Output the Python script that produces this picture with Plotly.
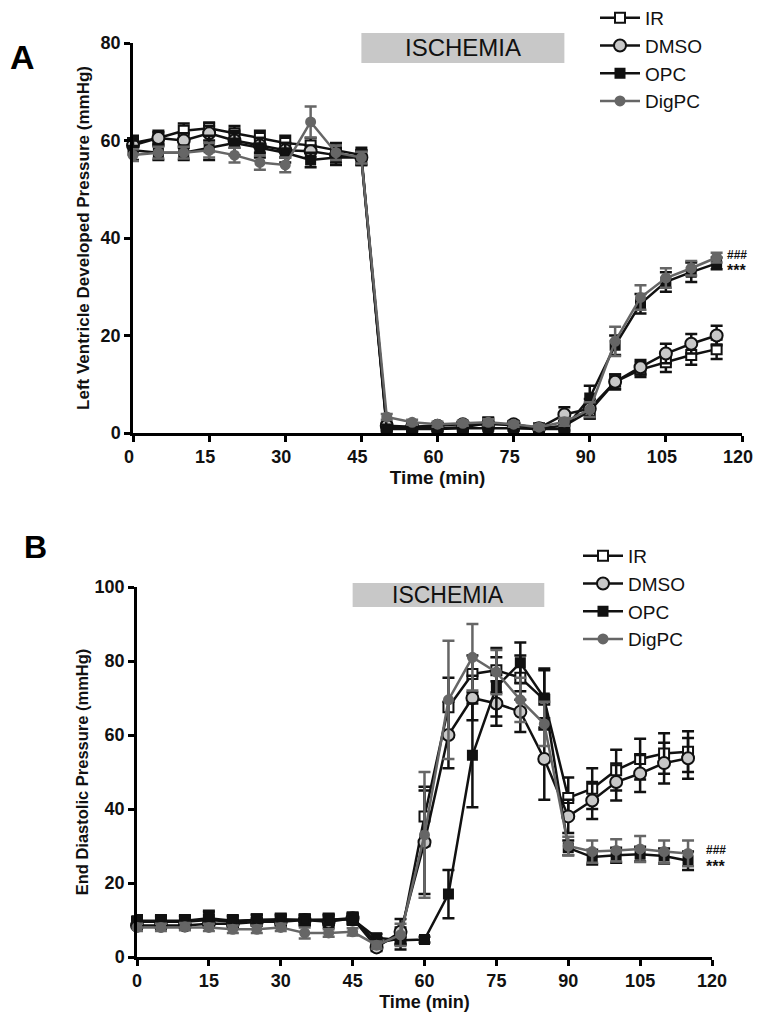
import plotly.graph_objects as go

# time points (min)
time_min = [0, 5, 10, 15, 20, 25, 30, 35, 40, 45, 50, 55, 60, 65, 70, 75, 80, 85, 90, 95, 100, 105, 110, 115]

# Panel A: left ventricle developed pressure (mmHg)
ir_a = [59.5, 60.5, 62, 62.5, 61.5, 60.5, 59.5, 59, 58, 57, 1.2, 1.0, 1.0, 1.2, 2.0, 1.5, 1.0, 1.5, 4.5, 10.5, 13, 14.5, 16, 17.2]
dmso_a = [59, 60.5, 60, 61.5, 60, 59, 58, 57.8, 57, 56.5, 1.5, 1.3, 1.5, 1.8, 1.8, 1.8, 1.0, 3.8, 5, 10.5, 13.5, 16.3, 18.3, 20]
opc_a = [58, 57.5, 57.5, 58.5, 59.5, 58.5, 57.5, 56, 56.5, 56.5, 0.8, 0.8, 0.8, 1.0, 1.0, 1.0, 0.8, 0.8, 7.2, 18, 26.5, 31, 33, 34.8]
digpc_a = [57, 57.5, 57.5, 58, 57, 55.5, 55, 63.8, 57.5, 56.5, 3.3, 2.2, 1.8, 2.0, 2.2, 1.8, 1.2, 2.3, 4.8, 18.8, 27.8, 31.8, 33.8, 36]

ir_a_err = [1.5, 1.5, 1.5, 1.2, 1.5, 1.5, 1.5, 1.5, 1.5, 1.5, 0.5, 0.5, 0.5, 0.6, 1.2, 0.8, 0.5, 1.0, 1.5, 1.5, 1.5, 2.0, 2.0, 2.0]
dmso_a_err = [1.2, 1.2, 1.5, 1.5, 1.5, 1.5, 1.5, 1.2, 1.5, 1.5, 0.5, 0.5, 0.5, 0.6, 0.8, 0.6, 0.5, 1.5, 2.0, 1.5, 1.5, 2.0, 2.0, 2.0]
opc_a_err = [2.0, 1.5, 1.5, 2.5, 2.5, 2.0, 2.0, 1.5, 1.5, 1.5, 0.4, 0.4, 0.4, 0.5, 0.5, 0.5, 0.4, 0.8, 2.5, 2.0, 2.0, 2.0, 2.0, 1.2]
digpc_a_err = [1.2, 1.2, 1.2, 1.5, 1.5, 1.5, 1.5, 3.2, 1.5, 1.2, 0.6, 0.5, 0.5, 0.5, 0.6, 0.5, 0.5, 0.8, 1.5, 3.0, 2.5, 2.0, 1.5, 1.0]

# Panel B: end diastolic pressure (mmHg)
ir_b = [9.5, 9.5, 9.5, 10, 9.5, 10, 10, 10, 10, 10.5, 3.8, 5, 38, 67.5, 76.5, 77.5, 75.5, 69.5, 43, 45.5, 50.5, 53.5, 55, 55.5]
dmso_b = [8.5, 8.5, 8.5, 9, 9, 9.5, 9.5, 10, 9.5, 10.5, 2.6, 6.8, 31, 60, 70, 68.5, 66.3, 53.5, 38, 42.3, 47.3, 49.6, 52.4, 53.7]
opc_b = [9.8, 9.8, 9.8, 10.5, 9.8, 10, 10.2, 10, 10.2, 10.2, 5.2, 4.5, 4.7, 17, 54.5, 73, 79.5, 70, 29.5, 27, 27.5, 27.8, 27.3, 26]
digpc_b = [8, 8, 8.2, 8, 7.5, 7.5, 8, 6.5, 6.5, 6.8, 3.2, 6, 33, 69.5, 81, 77, 69.5, 63, 30, 28.5, 28.8, 29.2, 28.5, 28]

ir_b_err = [1.5, 1.5, 1.5, 2.0, 1.5, 1.5, 1.5, 1.5, 1.5, 1.5, 1.5, 3.0, 8.0, 8.0, 5.0, 6.0, 6.0, 8.0, 5.5, 5.5, 5.5, 5.5, 5.5, 5.5]
dmso_b_err = [1.0, 1.0, 1.0, 1.0, 1.0, 1.0, 1.5, 1.0, 1.5, 1.0, 1.0, 3.5, 14, 9, 6, 6, 5.5, 11, 4.5, 5.0, 5.0, 5.0, 5.5, 5.5]
opc_b_err = [1.5, 1.5, 1.5, 2.0, 1.5, 1.5, 1.5, 1.5, 1.5, 1.5, 1.0, 1.0, 0.8, 6.5, 14, 8, 5.5, 8, 2.0, 2.0, 2.0, 2.0, 2.0, 2.5]
digpc_b_err = [1.0, 1.0, 1.0, 1.0, 1.0, 1.0, 1.0, 1.5, 1.0, 1.0, 1.0, 3.0, 17, 16, 9, 6, 6, 6, 2.5, 3.0, 3.0, 3.5, 3.0, 3.5]

x_ticks = [0, 15, 30, 45, 60, 75, 90, 105, 120]
ischemia = [45, 85]

FONT = "Liberation Sans, Arial, sans-serif"
BLACK = "#111111"
GREY = "#666666"

styles = {
    "IR": dict(color=BLACK, symbol="square", fill="white", size=10),
    "DMSO": dict(color=BLACK, symbol="circle", fill="#c8c8c8", size=12),
    "OPC": dict(color=BLACK, symbol="square", fill=BLACK, size=9),
    "DigPC": dict(color=GREY, symbol="circle", fill=GREY, size=9),
}

panels = [
    ("x", "y", "legend", {"IR": (ir_a, ir_a_err), "DMSO": (dmso_a, dmso_a_err),
                          "OPC": (opc_a, opc_a_err), "DigPC": (digpc_a, digpc_a_err)}),
    ("x2", "y2", "legend2", {"IR": (ir_b, ir_b_err), "DMSO": (dmso_b, dmso_b_err),
                             "OPC": (opc_b, opc_b_err), "DigPC": (digpc_b, digpc_b_err)}),
]

fig = go.Figure()
for xa, ya, leg, series in panels:
    for name, (vals, errs) in series.items():
        s = styles[name]
        fig.add_trace(go.Scatter(
            x=time_min, y=vals, name=name, mode="lines+markers",
            xaxis=xa, yaxis=ya, legend=leg, cliponaxis=False,
            line=dict(color=s["color"], width=2.5),
            marker=dict(symbol=s["symbol"], size=s["size"], color=s["fill"],
                        line=dict(color=s["color"], width=2)),
            error_y=dict(type="data", array=errs, color=s["color"], thickness=2.5, width=6),
        ))

# the page body adds an 8px margin, so the figure is drawn 8px smaller on each side
OFF = 8
W, H = 761 - 2 * OFF, 1020 - 2 * OFF


def px_x(p):
    # screen x (px) -> paper
    return (p - OFF) / W


def px_y(p):
    # screen y (px) -> paper
    return 1 - (p - OFF) / H


axis_common = dict(showline=True, linecolor="black", linewidth=2.5, ticks="outside",
                   ticklen=6, tickwidth=2.5, tickcolor="black", showgrid=False, zeroline=False,
                   automargin=False, ticklabeloverflow="allow",
                   tickfont=dict(family=FONT, size=18, color=BLACK, weight="bold"))

fig.update_layout(
    width=W, height=H, margin=dict(l=0, r=0, t=0, b=0, autoexpand=False),
    plot_bgcolor="white", paper_bgcolor="white",
    font=dict(family=FONT, color=BLACK),
    xaxis=dict(axis_common, domain=[px_x(133), px_x(742)], range=[0, 120], tickvals=x_ticks,
               ticklabelshift=-4, anchor="y",
               title=dict(text="Time (min)", standoff=4, font=dict(family=FONT, size=19, weight="bold"))),
    yaxis=dict(axis_common, domain=[px_y(433), px_y(43)], range=[0, 80], tickvals=[0, 20, 40, 60, 80],
               anchor="x", title=dict(text="Left Ventricle Developed Pressure (mmHg)", standoff=7,
                                      font=dict(family=FONT, size=17, weight="bold"))),
    xaxis2=dict(axis_common, domain=[px_x(137), px_x(712)], range=[0, 120], tickvals=x_ticks,
                anchor="y2", title=dict(text="Time (min)", standoff=10,
                                        font=dict(family=FONT, size=18, weight="bold"))),
    yaxis2=dict(axis_common, domain=[px_y(957), px_y(587)], range=[0, 100],
                tickvals=[0, 20, 40, 60, 80, 100], anchor="x2",
                title=dict(text="End Diastolic Pressure (mmHg)", standoff=2,
                           font=dict(family=FONT, size=16.5, weight="bold"))),
    legend=dict(x=px_x(595), y=px_y(-1), xanchor="left", yanchor="top", itemwidth=40,
                font=dict(family=FONT, size=19, color=BLACK), bgcolor="rgba(0,0,0,0)"),
    legend2=dict(x=px_x(578), y=px_y(537), xanchor="left", yanchor="top", itemwidth=40,
                 font=dict(family=FONT, size=19, color=BLACK), bgcolor="rgba(0,0,0,0)"),
    showlegend=True,
)

# ischemia bars
fig.add_shape(type="rect", xref="x", yref="paper", x0=ischemia[0], x1=ischemia[1],
              y0=px_y(63), y1=px_y(33), fillcolor="#c8c8c8", line=dict(width=0), layer="below")
fig.add_shape(type="rect", xref="x2", yref="paper", x0=ischemia[0], x1=ischemia[1],
              y0=px_y(607), y1=px_y(583), fillcolor="#c8c8c8", line=dict(width=0), layer="below")
fig.add_annotation(x=sum(ischemia) / 2, y=px_y(48), xref="x", yref="paper", text="ISCHEMIA",
                   showarrow=False, yanchor="middle", font=dict(family=FONT, size=24, color=BLACK))
fig.add_annotation(x=sum(ischemia) / 2, y=px_y(595), xref="x2", yref="paper", text="ISCHEMIA",
                   showarrow=False, yanchor="middle", font=dict(family=FONT, size=23, color=BLACK))

# significance marks
fig.add_annotation(x=time_min[-1], y=digpc_a[-1], xref="x", yref="y", text="###", showarrow=False,
                   xanchor="left", xshift=8, yshift=2, font=dict(family=FONT, size=12, weight="bold"))
fig.add_annotation(x=time_min[-1], y=opc_a[-1], xref="x", yref="y", text="***", showarrow=False,
                   xanchor="left", xshift=8, yshift=-7, font=dict(family=FONT, size=16, weight="bold"))
fig.add_annotation(x=time_min[-1], y=digpc_b[-1], xref="x2", yref="y2", text="###", showarrow=False,
                   xanchor="left", xshift=16, yshift=3, font=dict(family=FONT, size=12, weight="bold"))
fig.add_annotation(x=time_min[-1], y=opc_b[-1], xref="x2", yref="y2", text="***", showarrow=False,
                   xanchor="left", xshift=16, yshift=-6, font=dict(family=FONT, size=16, weight="bold"))

# panel letters
fig.add_annotation(x=px_x(8), y=px_y(57), xref="paper", yref="paper", text="<b>A</b>", showarrow=False,
                   xanchor="left", yanchor="middle", font=dict(family=FONT, size=34, color="black"))
fig.add_annotation(x=px_x(22), y=px_y(547), xref="paper", yref="paper", text="<b>B</b>", showarrow=False,
                   xanchor="left", yanchor="middle", font=dict(family=FONT, size=32, color="black"))

fig.write_html("out.html")
